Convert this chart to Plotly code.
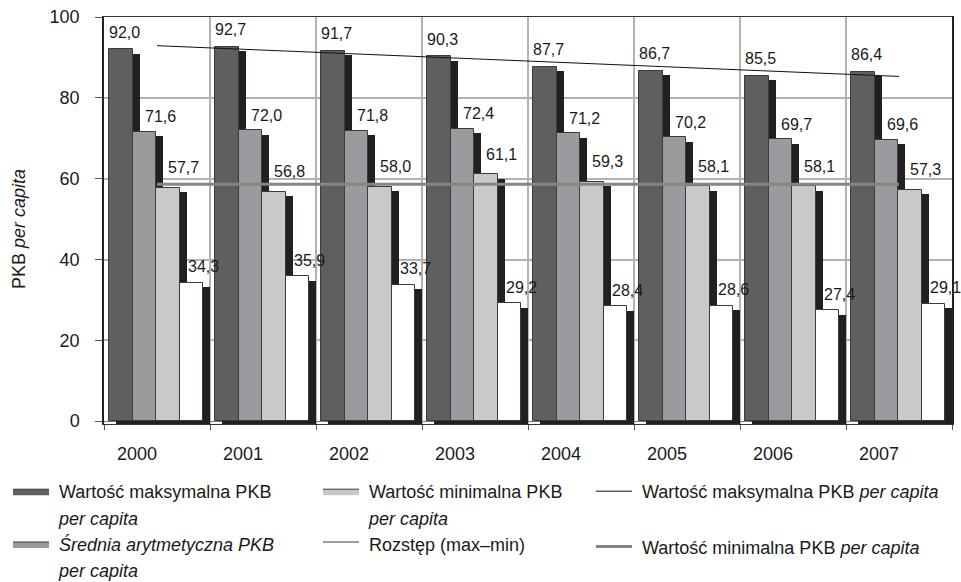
import plotly.graph_objects as go

# ---- data -------------------------------------------------------------
years = [2000, 2001, 2002, 2003, 2004, 2005, 2006, 2007]
max_pkb = [92.0, 92.7, 91.7, 90.3, 87.7, 86.7, 85.5, 86.4]
mean_pkb = [71.6, 72.0, 71.8, 72.4, 71.2, 70.2, 69.7, 69.6]
min_pkb = [57.7, 56.8, 58.0, 61.1, 59.3, 58.1, 58.1, 57.3]
range_pkb = [34.3, 35.9, 33.7, 29.2, 28.4, 28.6, 27.4, 29.1]

# straight lines across the chart (first and last year)
line_years = [2000, 2007]
max_line = [92.9, 85.3]
min_line = [58.6, 58.6]

y_ticks = [0, 20, 40, 60, 80, 100]

# ---- styling ----------------------------------------------------------
FONT = "Arial, Liberation Sans, sans-serif"
TXT = "#1a1a1a"
GRID = "#b2b2b2"
OUTLINE = "#3a3a3a"
SHADOW = "#231f20"
NB = "\u00a0"

W, H = 961, 582
M_L, M_R, M_T, M_B = 104, 9, 17, 158
PLOT_W, PLOT_H = W - M_L - M_R, H - M_T - M_B

BAR_W = 0.222        # width of one bar (category = 1)
FIRST_OFF = -0.453   # left edge of the first bar relative to the year
SH_DX = 0.066        # shadow shift to the right
SH_DROP = 1.1        # shadow top below the bar top (y units)
SH_BASE = -0.7       # shadow reaches slightly under the axis

series = [
    # name, values, fill, legend name, label shift x, label shift y
    ("max", max_pkb, "#5f5f61", "Wartość maksymalna PKB", 4, 17),
    ("mean", mean_pkb, "#9a9b9e", "<i>Średnia arytmetyczna PKB</i>", 16, 15),
    ("min", min_pkb, "#c8c9cb", "Wartość minimalna PKB", 16, 20),
    ("range", range_pkb, "#ffffff", "Rozstęp (max–min)", 12, 16),
]

fig = go.Figure()

# shadows behind every bar
for i, (_, vals, _, _, _, _) in enumerate(series):
    off = FIRST_OFF + i * BAR_W
    fig.add_trace(go.Bar(
        x=years, y=[v - SH_DROP - SH_BASE for v in vals], base=SH_BASE,
        width=BAR_W, offset=off + SH_DX,
        marker=dict(color=SHADOW, line=dict(width=0)),
        showlegend=False, hoverinfo="skip",
    ))

# front faces of the bars
for i, (key, vals, color, _, _, _) in enumerate(series):
    off = FIRST_OFF + i * BAR_W
    fig.add_trace(go.Bar(
        x=years, y=vals, width=BAR_W, offset=off, name=key,
        marker=dict(color=color, line=dict(color=OUTLINE, width=1)),
        showlegend=False,
    ))

# horizontal lines
fig.add_trace(go.Scatter(
    x=line_years, y=max_line, mode="lines",
    line=dict(color="#111111", width=1),
    name=NB + "Wartość maksymalna PKB <i>per capita</i>",
    legend="legend3", legendgroup="a",
))
fig.add_trace(go.Scatter(
    x=line_years, y=min_line, mode="lines",
    line=dict(color="#858585", width=3),
    name=NB + "Wartość minimalna PKB <i>per capita</i>",
    legend="legend3", legendgroup="b",
))

# value labels
annotations = []
for i, (_, vals, _, _, dx, dy) in enumerate(series):
    off = FIRST_OFF + i * BAR_W
    for yr, v in zip(years, vals):
        annotations.append(dict(
            x=yr + off + BAR_W / 2, y=v, xref="x", yref="y",
            text=f"{v:.1f}".replace(".", ","), showarrow=False,
            xshift=dx, yshift=dy, font=dict(size=16, color=TXT, family=FONT),
        ))

# y-axis title
annotations.append(dict(
    text="PKB <i>per capita</i>", textangle=-90, showarrow=False,
    xref="paper", yref="paper", x=(19 - M_L) / PLOT_W, y=(H - M_B - 229) / PLOT_H,
    xanchor="center", yanchor="middle", font=dict(size=18, color=TXT, family=FONT),
))


# legend entries for the bar series (two-line labels)
def swatch(name, color, legend):
    fig.add_trace(go.Scatter(
        x=[years[0]], y=[None], mode="lines", fill="toself", fillcolor=color,
        line=dict(color=OUTLINE, width=1), name=NB + name, legend=legend,
        hoverinfo="skip",
    ))


def second_line(legend):
    fig.add_trace(go.Scatter(
        x=[years[0]], y=[None], mode="lines",
        line=dict(color="rgba(0,0,0,0)", width=0),
        name=NB + "<i>per capita</i>", legend=legend, hoverinfo="skip",
    ))


swatch(series[0][3], series[0][2], "legend")
second_line("legend")
swatch(series[1][3], series[1][2], "legend")
second_line("legend")
swatch(series[2][3], series[2][2], "legend2")
second_line("legend2")
swatch(series[3][3], series[3][2], "legend2")

leg_common = dict(
    xref="container", yref="container", xanchor="left", yanchor="top",
    font=dict(size=18, color=TXT, family=FONT), bgcolor="rgba(0,0,0,0)",
    itemwidth=36, itemclick=False, itemdoubleclick=False,
)

fig.update_layout(
    width=W, height=H,
    margin=dict(l=M_L, r=M_R, t=M_T, b=M_B, pad=0, autoexpand=False),
    paper_bgcolor="white", plot_bgcolor="white",
    barmode="overlay", bargap=0,
    font=dict(family=FONT, size=18, color=TXT),
    annotations=annotations,
    legend=dict(x=8 / W, y=1 - 473 / H, **leg_common),
    legend2=dict(x=318 / W, y=1 - 473 / H, **leg_common),
    legend3=dict(x=591 / W, y=1 - 473 / H, tracegroupgap=29, **leg_common),
    xaxis=dict(
        range=[1999.5, 2007.5], tickvals=years, ticktext=[str(y) for y in years],
        ticks="", showgrid=False, zeroline=False, ticklabelshift=-20,
        ticklabelstandoff=13,
        tickfont=dict(size=18, color=TXT),
        showline=True, mirror=True, linecolor="#333333", linewidth=1,
        minor=dict(tick0=1999.5, dtick=1, ticks="outside", ticklen=5,
                   tickcolor="#555555", showgrid=True, gridcolor=GRID,
                   gridwidth=1.5),
    ),
    yaxis=dict(
        range=[SH_BASE, 100], tickvals=y_ticks,
        ticks="outside", ticklen=7, tickcolor="#555555",
        ticklabelstandoff=12,
        tickfont=dict(size=18, color=TXT),
        showgrid=True, gridcolor=GRID, gridwidth=1.5,
        zeroline=True, zerolinecolor="#777777", zerolinewidth=1,
        showline=True, mirror=True, linecolor="#222222", linewidth=1.5,
    ),
)

fig.write_html("out.html")
